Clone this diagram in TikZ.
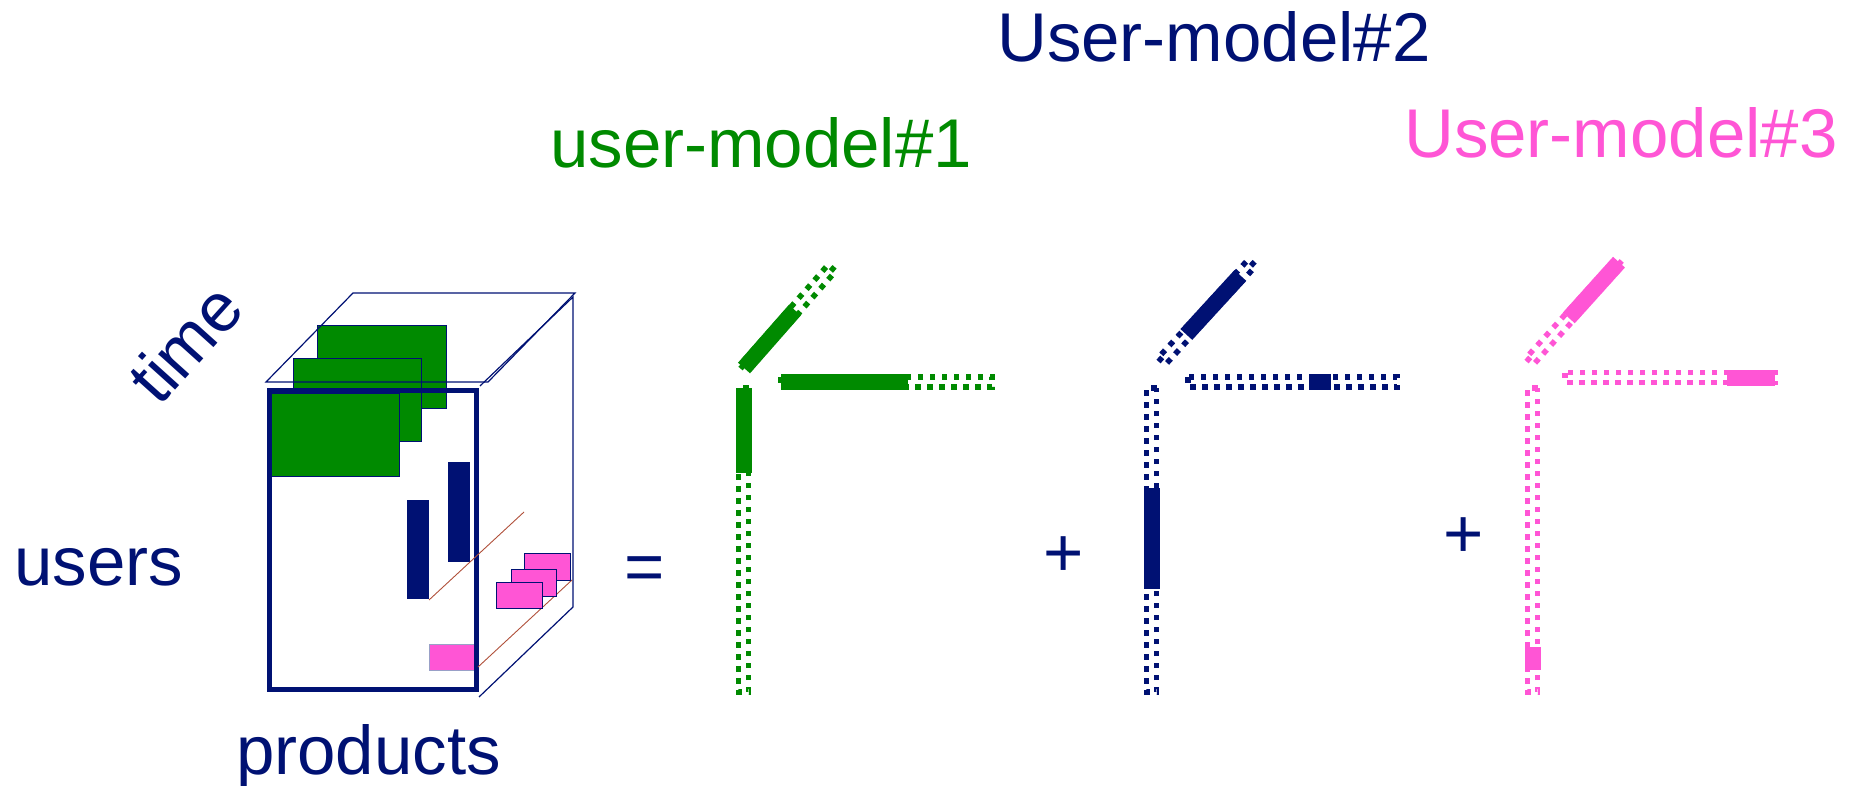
\documentclass[tikz,border=0pt]{standalone}
\usepackage{fontspec}
\setmainfont{Liberation Sans}

\definecolor{navy}{HTML}{001173}
\definecolor{leafgreen}{HTML}{008A00}
\definecolor{rose}{HTML}{FF55D5}
\definecolor{rust}{HTML}{B0503A}

\newcommand{\bigtext}{\fontsize{69}{80}\selectfont}

% one factor bar: dotted outline, with a solid stretch from #3 to #4
\newcommand{\factorbar}[4]{%
  \draw[dotbar, draw=#1] (0,-5) rectangle (#2,5);
  \fill[#1] (#3,-8) rectangle (#4,8);
}

\begin{document}
\begin{tikzpicture}[x=1pt, y=-1pt,
    every node/.style={inner sep=0pt, font=\bigtext},
    modeltitle/.style={anchor=base west},
    axisname/.style={anchor=base west, text=navy},
    opsign/.style={text=navy},
    dotbar/.style={line width=5.5pt, dash pattern=on 5.5pt off 6.5pt},
    wire/.style={navy, line width=1.2pt},
    patch/.style={draw=navy, line width=1pt}]

    \useasboundingbox (0,0) rectangle (1853,786);

    % Titles
    \node [modeltitle, text=navy]      (title2) at (997,62)  {User-model\#2};
    \node [modeltitle, text=leafgreen] (title1) at (550,168) {user-model\#1};
    \node [modeltitle, text=rose]      (title3) at (1404,158) {User-model\#3};

    % Tensor: hidden slices first
    \filldraw [patch, fill=leafgreen] (317,326) rectangle (446,408);
    \filldraw [patch, fill=leafgreen] (293,358) rectangle (421,441);

    % Wire frame of the box
    \draw [wire] (266,382) -- (353,293) -- (575,293) -- (488,382) -- cycle;
    \draw [wire] (480,386) -- (573,297) -- (573,607) -- (479,697);

    % Front slice
    \filldraw [patch, fill=leafgreen] (271,393) rectangle (399,476);
    \fill [navy] (407,500) rectangle (429,599);
    \fill [navy] (448,462) rectangle (470,562);
    \filldraw [patch, draw=navy!40, fill=rose] (429,644) rectangle (474,670);
    \draw [navy, line width=5pt] (269.5,390.5) rectangle (476.5,689.5);

    % Depth lines and the pink patches along time
    \draw [rust, line width=0.9pt] (429,600) -- (524,512);
    \draw [rust, line width=0.9pt] (478,667) -- (572,580);
    \filldraw [patch, fill=rose] (524,553) rectangle (570,580);
    \filldraw [patch, fill=rose] (511,569) rectangle (556,596);
    \filldraw [patch, fill=rose] (496,582) rectangle (542,608);

    % Axis names
    \node [axisname, anchor=center, rotate=48] (time)     at (185,343) {time};
    \node [axisname]                           (users)    at (14,585)  {users};
    \node [axisname]                           (products) at (236,774) {products};

    % Signs
    \node [opsign] (eq)    at (645,574)  {=};
    \node [opsign] (plus1) at (1064,557) {+};
    \node [opsign] (plus2) at (1464,538) {+};

    % Model 1
    \begin{scope}[shift={(743.5,388)}, rotate=-90]
        \factorbar{leafgreen}{304}{0}{85}
    \end{scope}
    \begin{scope}[shift={(781,382)}]
        \factorbar{leafgreen}{211}{0}{127}
    \end{scope}
    \begin{scope}[shift={(744,368)}, rotate=48.7]
        \factorbar{leafgreen}{133}{0}{77}
    \end{scope}

    % Model 2
    \begin{scope}[shift={(1151.5,388)}, rotate=-90]
        \factorbar{navy}{304}{100}{201}
    \end{scope}
    \begin{scope}[shift={(1188,382)}]
        \factorbar{navy}{209}{121}{143}
    \end{scope}
    \begin{scope}[shift={(1162,361)}, rotate=47.5]
        \factorbar{navy}{133}{36}{116}
    \end{scope}

    % Model 3
    \begin{scope}[shift={(1532.5,388)}, rotate=-90]
        \factorbar{rose}{304}{259}{282}
    \end{scope}
    \begin{scope}[shift={(1565,377.5)}]
        \factorbar{rose}{210}{162}{210}
    \end{scope}
    \begin{scope}[shift={(1530,361)}, rotate=48]
        \factorbar{rose}{133}{58}{133}
    \end{scope}

\end{tikzpicture}
\end{document}
